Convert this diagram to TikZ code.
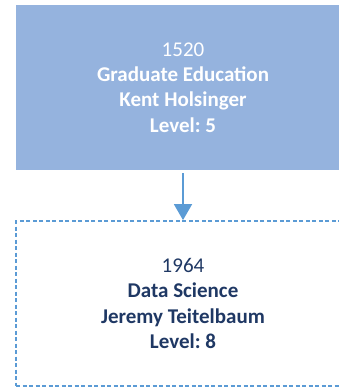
\documentclass[tikz,border=0pt]{standalone}
\usepackage{fontspec}
\setmainfont{Carlito}
\usetikzlibrary{positioning}
\usetikzlibrary{arrows.meta}
\definecolor{boxblue}{HTML}{95B3DE}
\definecolor{linkblue}{HTML}{5B9BD5}
\definecolor{navytext}{HTML}{1F3864}
\frenchspacing

\begin{document}
\begin{tikzpicture}[x=1pt, y=1pt, unitbox/.style={rectangle, minimum width=334pt, minimum height=165pt, align=center, inner sep=0pt, font=\fontsize{21}{25.3}\selectfont}]
        % Fix the visible area
        \useasboundingbox (0,0) rectangle (339,-388);
        \clip (0,0) rectangle (339,-388);

        % Draw the parent unit
        \node[unitbox, fill=boxblue, text=white] (parent) at (183,-87.5) {1520\\\textbf{Graduate Education}\\\textbf{Kent Holsinger}\\\textbf{Level: 5}};

        % Draw the child unit below it
        \node[unitbox, draw=linkblue, line width=1.8pt, dash pattern=on 4pt off 2.5pt, text=navytext] (child) at (183,-303.5) {1964\\\textbf{Data Science}\\\textbf{Jeremy Teitelbaum}\\\textbf{Level: 8}};

        % Connect parent to child
        \draw[linkblue, line width=1.8pt, shorten <=3pt, -{Triangle[width=18pt, length=16pt]}] (parent) -- (child);
      \end{tikzpicture}
\end{document}
